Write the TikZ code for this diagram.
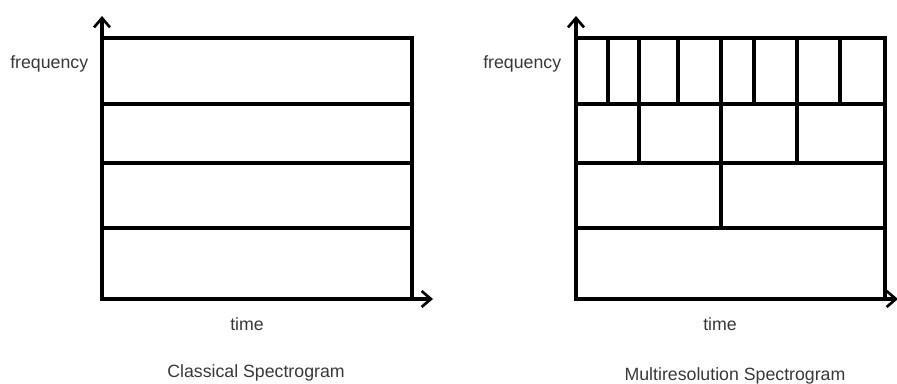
\documentclass[tikz,border=0pt]{standalone}
\usepackage{fontspec}
\setmainfont{Liberation Sans}
\usetikzlibrary{arrows.meta}
\begin{document}
\begin{tikzpicture}[x=0.75pt,y=-0.75pt,
  grid/.style={line width=2.3pt,line cap=rect},
  axis/.style={line width=2.3pt,-{Straight Barb[length=7pt,width=12pt,line width=2pt]}},
  lbl/.style={inner sep=0pt,text=black!78,font=\fontsize{13.3}{16}\selectfont}]
\useasboundingbox (0,0) rectangle (897,383);
% ---- classical spectrogram: equal-height frequency bands ----
\coordinate (lo) at (102,299);
\draw[grid] (102,38) rectangle (412,299);
\foreach \y in {104,163,228} \draw[grid] (102,\y) -- (412,\y);
\draw[axis] (lo) -- (102,16);
\draw[axis] (lo) -- (433,299);
\node[lbl,anchor=base west] (f1) at (10,68) {frequency};
\node[lbl,anchor=base] (t1) at (247,330) {time};
\node[lbl,anchor=base] (c1) at (256,377) {Classical Spectrogram};
% ---- multiresolution spectrogram: finer time steps at high frequency ----
\coordinate (ro) at (576,299);
\draw[grid] (576,38) rectangle (885,299);
\foreach \y in {104,163,228} \draw[grid] (576,\y) -- (885,\y);
\foreach \x in {608,639,678,721,754,797,840} \draw[grid] (\x,38) -- (\x,104);
\foreach \x in {639,721,797} \draw[grid] (\x,104) -- (\x,163);
\draw[grid] (721,163) -- (721,228);
\draw[axis] (ro) -- (576,16);
\draw[axis] (ro) -- (898,299);
\node[lbl,anchor=base west] (f2) at (483,68) {frequency};
\node[lbl,anchor=base] (t2) at (720,330) {time};
\node[lbl,anchor=base] (c2) at (735,380) {Multiresolution Spectrogram};
\end{tikzpicture}
\end{document}
